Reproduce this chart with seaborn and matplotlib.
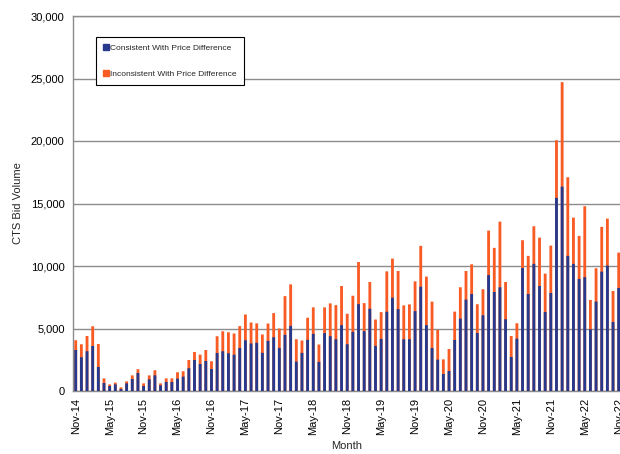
import pandas as pd
import matplotlib
matplotlib.use('Agg')
import matplotlib.pyplot as plt
from matplotlib.lines import Line2D
from matplotlib.ticker import FuncFormatter
import seaborn as sns

# ─────────────────────────────────────────────
# DATA (monthly CTS bid volume, Nov-14 .. Nov-22)
# ─────────────────────────────────────────────
months = pd.date_range('2014-11-01', periods=97, freq='MS').strftime('%b-%y').tolist()

consistent = [
    3280, 2700, 3180, 3600, 1920, 640, 400, 530, 160, 610,
    960, 1440, 400, 930, 1250, 450, 720, 720, 990, 1150,
    1820, 2480, 2160, 2400, 1760, 3040, 3180, 3020, 2900, 3440,
    4060, 3800, 3850, 3050, 4010, 4300, 3450, 4490, 5210, 2350,
    3050, 4090, 4570, 2330, 4630, 4390, 4140, 5270, 3740, 4730,
    6950, 4790, 6580, 3610, 4170, 6340, 7460, 6550, 4140, 4140,
    6390, 8340, 5270, 3440, 2510, 1360, 1600, 4080, 5790, 7310,
    7760, 4640, 6060, 9280, 7920, 8300, 5740, 2720, 4190, 9840,
    7760, 10170, 8400, 6320, 7840, 15450, 16350, 10810, 10170, 8960,
    9100, 4940, 7150, 9550, 10030, 5520, 8240,
]
inconsistent = [
    780, 1040, 1220, 1580, 1840, 370, 130, 140, 130, 160,
    290, 300, 210, 320, 410, 160, 290, 290, 510, 430,
    660, 640, 750, 880, 620, 1340, 1600, 1680, 1700, 1750,
    2060, 1680, 1560, 1470, 1390, 1930, 1550, 3100, 3320, 1790,
    990, 1770, 2120, 1390, 2060, 2620, 2730, 3130, 2440, 2890,
    3370, 2240, 2140, 2110, 2140, 3230, 3130, 3050, 2710, 2790,
    2380, 3270, 3880, 3710, 2370, 1170, 1760, 2270, 2510, 2290,
    2380, 2300, 2080, 3550, 3530, 5250, 2980, 1680, 1230, 2220,
    3050, 3010, 3870, 3070, 3790, 4610, 8360, 6290, 3700, 3450,
    5680, 2340, 2670, 3580, 3760, 2480, 2830,
]

series_names = ['Consistent With Price Difference',
                'Inconsistent With Price Difference']

BLUE = '#27398C'
ORANGE = '#F95B24'
GRID = '#8C8C8C'

df = pd.DataFrame({'Month': months,
                   'Consistent': consistent,
                   'Inconsistent': inconsistent})
df['Total'] = df['Consistent'] + df['Inconsistent']

# ─────────────────────────────────────────────
# PLOT
# ─────────────────────────────────────────────
sns.set_style('white')
plt.rcParams['font.family'] = ['Liberation Sans', 'DejaVu Sans']

fig = plt.figure(figsize=(6.2, 4.54), dpi=100)
ax = fig.add_axes([73 / 620, 1 - 391 / 454, 547 / 620, 375 / 454])

# stacked: total in orange, consistent part drawn over it in blue
sns.barplot(data=df, x='Month', y='Total', color=ORANGE,
            saturation=1, width=0.5, errorbar=None, ax=ax, zorder=3,
            linewidth=0, edgecolor='none')
sns.barplot(data=df, x='Month', y='Consistent', color=BLUE,
            saturation=1, width=0.5, errorbar=None, ax=ax, zorder=4,
            linewidth=0, edgecolor='none')
# thin bars: keep them the same width instead of pixel-snapped
for p in ax.patches:
    p.set_snap(False)

ax.set_xlim(-0.48, 96.23)
ax.set_ylim(0, 30000)
ax.set_yticks(range(0, 30001, 5000))
ax.yaxis.set_major_formatter(FuncFormatter(lambda v, p: f'{int(v):,}'))
ax.set_xticks(range(0, 97, 6))
ax.set_xticklabels(months[::6], rotation=90)
ax.tick_params(axis='both', labelsize=8, colors='black',
               length=3, width=0.8, direction='out')
ax.tick_params(axis='both', color=GRID)
ax.tick_params(axis='x', pad=2)
ax.tick_params(axis='y', pad=3)

ax.yaxis.grid(True, color=GRID, linewidth=1.0, zorder=0)
ax.set_axisbelow(True)
for side in ['left', 'bottom', 'top']:
    ax.spines[side].set_color(GRID)
    ax.spines[side].set_linewidth(1.0)
ax.spines['right'].set_visible(False)

ax.set_xlabel('Month', fontsize=8, labelpad=4)
ax.set_ylabel('CTS Bid Volume', fontsize=8, labelpad=6)

handles = [Line2D([], [], marker='s', ls='', color=BLUE, markersize=4.5),
           Line2D([], [], marker='s', ls='', color=ORANGE, markersize=4.5)]
leg = ax.legend(handles, series_names, loc='upper left',
                bbox_to_anchor=(0.042, 0.944), borderaxespad=0,
                fontsize=6, frameon=True, fancybox=False, framealpha=1,
                edgecolor='black', labelspacing=2.1, borderpad=0.9,
                handlelength=0.6, handletextpad=0.15)
leg.get_frame().set_linewidth(0.8)

fig.savefig('out.png', dpi=100)
plt.close(fig)
